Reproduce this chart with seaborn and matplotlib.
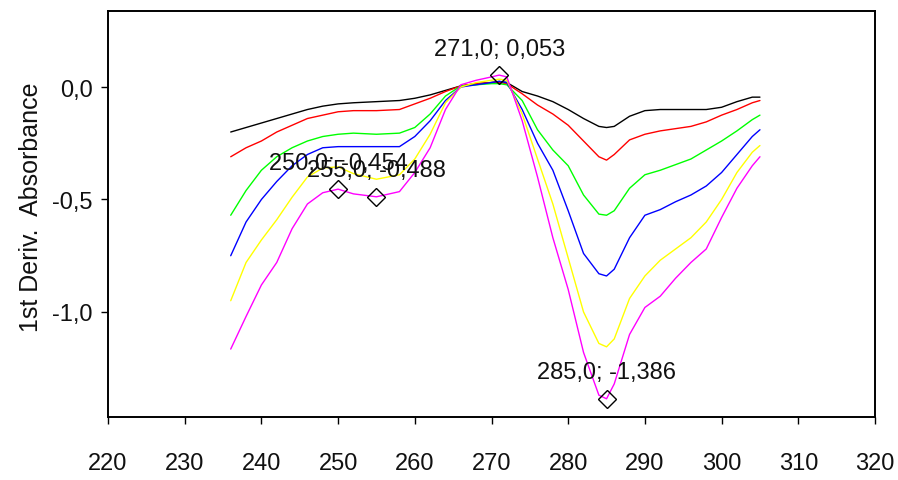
import matplotlib
matplotlib.use("Agg")
import matplotlib.pyplot as plt
import seaborn as sns
import pandas as pd

# wavelengths (nm)
wl = [236, 238, 240, 242, 244, 246, 248, 250, 252, 255, 258, 260, 262, 264, 266, 268,
      270, 271, 272, 274, 276, 278, 280, 282, 284, 285, 286, 288, 290, 292, 294, 296,
      298, 300, 302, 304, 305]

black = [-0.20, -0.18, -0.16, -0.14, -0.12, -0.10, -0.085, -0.075, -0.07, -0.065, -0.06, -0.05,
         -0.035, -0.015, 0.005, 0.015, 0.02, 0.025, 0.02, -0.02, -0.04, -0.065, -0.10, -0.14,
         -0.175, -0.18, -0.175, -0.13, -0.105, -0.10, -0.10, -0.10, -0.10, -0.09, -0.065, -0.045, -0.045]
red = [-0.31, -0.27, -0.24, -0.20, -0.17, -0.14, -0.125, -0.11, -0.105, -0.105, -0.10, -0.075,
       -0.05, -0.02, 0.005, 0.015, 0.02, 0.02, 0.015, -0.03, -0.08, -0.12, -0.17, -0.24,
       -0.31, -0.325, -0.30, -0.235, -0.21, -0.195, -0.185, -0.175, -0.155, -0.125, -0.10, -0.07, -0.06]
green = [-0.57, -0.46, -0.37, -0.31, -0.27, -0.24, -0.22, -0.21, -0.205, -0.21, -0.205, -0.18,
         -0.12, -0.04, 0.005, 0.01, 0.015, 0.015, 0.01, -0.06, -0.19, -0.28, -0.35, -0.48,
         -0.565, -0.57, -0.55, -0.45, -0.39, -0.37, -0.345, -0.32, -0.28, -0.24, -0.195, -0.145, -0.125]
blue = [-0.75, -0.60, -0.50, -0.42, -0.35, -0.30, -0.27, -0.265, -0.265, -0.265, -0.265, -0.22,
        -0.15, -0.06, 0.0, 0.01, 0.02, 0.025, 0.02, -0.10, -0.25, -0.37, -0.55, -0.74,
        -0.83, -0.84, -0.81, -0.67, -0.57, -0.545, -0.51, -0.48, -0.44, -0.38, -0.30, -0.22, -0.19]
yellow = [-0.95, -0.78, -0.68, -0.59, -0.49, -0.40, -0.36, -0.355, -0.385, -0.41, -0.39, -0.32,
          -0.21, -0.07, 0.0, 0.02, 0.03, 0.035, 0.03, -0.12, -0.32, -0.52, -0.76, -1.0,
          -1.14, -1.155, -1.12, -0.94, -0.84, -0.77, -0.72, -0.67, -0.60, -0.50, -0.38, -0.29, -0.26]
magenta = [-1.165, -1.02, -0.88, -0.78, -0.63, -0.52, -0.47, -0.454, -0.475, -0.488, -0.465, -0.38,
           -0.27, -0.10, 0.01, 0.03, 0.045, 0.053, 0.045, -0.15, -0.40, -0.67, -0.90, -1.18,
           -1.37, -1.386, -1.32, -1.10, -0.98, -0.93, -0.85, -0.78, -0.72, -0.58, -0.45, -0.35, -0.31]

series = [("black", black), ("#ff0000", red), ("#00ff00", green),
          ("#0000ff", blue), ("#ffff00", yellow), ("#ff00ff", magenta)]

# labelled peaks
peak_x = [250.0, 255.0, 271.0, 285.0]
peak_y = [-0.454, -0.488, 0.053, -1.386]
peak_labels = ["250,0; -0,454", "255,0; -0,488", "271,0; 0,053", "285,0; -1,386"]

x_ticks = [220, 230, 240, 250, 260, 270, 280, 290, 300, 310, 320]
y_ticks = [0.0, -0.5, -1.0]
y_tick_labels = ["0,0", "-0,5", "-1,0"]

sns.set_style("white")
plt.rcParams["font.family"] = ["Liberation Sans", "DejaVu Sans"]

fig = plt.figure(figsize=(8.98, 4.81), dpi=100)
ax = fig.add_axes([108 / 898, 1 - 418 / 481, 767 / 898, 406 / 481])

for color, vals in series:
    df = pd.DataFrame({"wl": wl, "val": vals})
    sns.lineplot(data=df, x="wl", y="val", ax=ax, color=color, lw=1.0, estimator=None)

ax.plot(peak_x, peak_y, ls="none", marker="D", ms=9, mfc="none", mec="black", mew=1.0)
for px, py, lab in zip(peak_x, peak_y, peak_labels):
    ax.annotate(lab, (px, py), xytext=(0, 19), textcoords="offset points",
                ha="center", va="center", fontsize=17, color="#111111")

ax.set_xlim(220, 320)
ax.set_ylim(-1.467, 0.338)
ax.set_xticks(x_ticks)
ax.set_xticklabels([str(t) for t in x_ticks])
ax.set_yticks(y_ticks)
ax.set_yticklabels(y_tick_labels)
ax.tick_params(axis="both", direction="out", length=5, width=1, color="black",
               labelsize=17, labelcolor="#111111", left=True, bottom=True)
ax.tick_params(axis="x", pad=20)
ax.tick_params(axis="y", pad=6)
ax.set_xlabel("")
ax.set_ylabel("1st Deriv.  Absorbance", fontsize=18, color="#111111")
ax.yaxis.set_label_coords(-0.085, 0.52)
for sp in ax.spines.values():
    sp.set_color("black")
    sp.set_linewidth(1.4)

fig.savefig("out.png", dpi=100)
